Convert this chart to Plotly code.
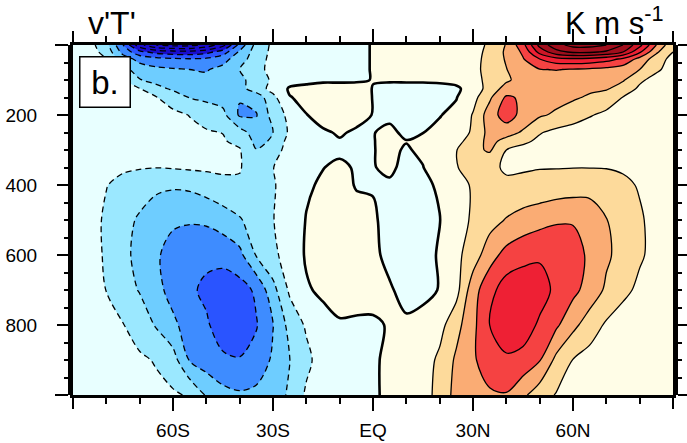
import plotly.graph_objects as go

# Latitude grid (deg, south negative) and pressure levels (hPa)
lat = list(range(-90, 91, 5))
plev = [0, 20, 40, 70, 100, 125, 150, 200, 250, 275, 300, 350, 400, 500, 600, 700, 800, 900, 1000]

# Zonal-mean eddy heat flux v'T' (K m s-1), one list per pressure level, 90S -> 90N
vt_0 = [-1.0, -2.0, -5.0, -12.0, -20.0, -24.0, -25.0, -25.0, -23.0, -19.0, -11.0, -5.0, -2.4, -1.0, -0.5, -0.3, -0.2, -0.2,
        0.05, 0.2, 0.3, 0.4, 0.6, 1.0, 1.8, 3.5, 6.2, 11.0, 19.0, 23.0, 25.0, 25.0, 24.0, 21.0, 16.0, 9.0, 3.5]
vt_20 = [-1.0, -1.8, -4.0, -10.0, -14.0, -16.0, -16.8, -17.0, -16.0, -13.5, -8.5, -4.6, -2.3, -1.0, -0.5, -0.3, -0.2, -0.2,
         0.05, 0.2, 0.3, 0.4, 0.6, 1.0, 1.9, 3.8, 6.5, 9.5, 16.0, 20.0, 21.5, 21.5, 20.5, 18.0, 12.5, 6.5, 3.0]
vt_40 = [-0.8, -1.5, -3.0, -7.5, -10.0, -11.0, -11.5, -11.8, -11.5, -10.0, -7.5, -4.2, -2.2, -1.0, -0.5, -0.3, -0.2, -0.2,
         0.05, 0.2, 0.3, 0.3, 0.5, 0.9, 2.0, 4.0, 6.3, 8.8, 12.0, 14.0, 14.5, 14.2, 13.2, 11.5, 8.0, 4.5, 2.0]
vt_70 = [-0.6, -1.2, -2.3, -5.0, -7.5, -8.3, -8.7, -9.0, -9.2, -8.2, -6.0, -3.8, -2.2, -1.0, -0.4, -0.3, -0.2, -0.2,
         0.05, 0.2, 0.3, 0.3, 0.4, 0.8, 2.0, 4.2, 5.9, 8.0, 8.9, 9.1, 8.8, 8.5, 8.1, 7.4, 6.0, 3.5, 1.8]
vt_100 = [-0.5, -1.0, -1.8, -2.9, -5.8, -7.2, -8.0, -8.3, -8.4, -8.0, -6.8, -4.6, -2.5, -1.0, -0.4, -0.3, -0.3, -0.2,
          0.05, 0.15, 0.2, 0.2, 0.3, 0.5, 1.8, 4.0, 5.6, 7.0, 7.6, 7.8, 7.6, 7.3, 6.8, 6.3, 3.5, 2.0, 1.5]
vt_125 = [-0.4, -0.9, -1.6, -2.4, -2.9, -4.8, -6.6, -7.4, -7.6, -7.5, -7.0, -4.5, -2.0, 0.3, 0.4, 0.7, 0.7, 0.6,
          -0.05, -0.4, -0.5, -0.5, -0.5, -0.3, 0.8, 4.5, 7.0, 7.3, 7.4, 7.3, 7.0, 6.5, 6.3, 4.6, 2.5, 1.6, 1.2]
vt_150 = [-0.4, -0.8, -1.3, -2.0, -2.5, -2.9, -3.8, -6.1, -6.8, -7.2, -8.8, -7.8, -3.8, -0.1, 0.5, 0.9, 1.0, 0.8,
          -0.05, -0.5, -0.6, -0.6, -0.5, -0.1, 2.0, 5.5, 9.5, 8.5, 7.6, 7.0, 6.4, 5.6, 4.5, 2.9, 1.6, 1.2, 1.0]
vt_200 = [-0.4, -0.8, -1.2, -1.7, -2.1, -2.4, -2.6, -3.05, -3.8, -5.2, -9.4, -9.2, -4.8, -2.2, -0.05, 0.6, 0.8, 0.5,
          -0.05, -0.3, -0.5, -0.4, -0.1, 0.6, 3.2, 7.5, 10.5, 8.0, 6.4, 5.5, 4.3, 3.2, 2.4, 1.7, 1.2, 1.0, 0.9]
vt_250 = [-0.5, -0.9, -1.3, -1.7, -2.0, -2.2, -2.4, -2.6, -2.8, -3.05, -4.8, -7.4, -6.0, -2.5, -0.3, -0.2, 0.15, -0.2,
          -0.05, 0.3, -0.3, -0.02, 0.5, 1.2, 3.5, 7.0, 7.2, 5.6, 3.2, 2.2, 1.8, 1.6, 1.5, 1.4, 1.3, 1.1, 1.0]
vt_275 = [-0.5, -0.95, -1.45, -1.85, -2.1, -2.25, -2.35, -2.45, -2.6, -2.8, -3.6, -6.8, -5.6, -1.8, -0.4, -0.3, -0.1, -0.3,
          -0.05, 0.35, 0.05, 0.2, 0.8, 2.0, 4.4, 6.9, 5.0, 3.6, 2.4, 1.8, 1.6, 1.45, 1.4, 1.35, 1.25, 1.1, 1.0]
vt_300 = [-0.5, -1.0, -1.6, -2.0, -2.2, -2.3, -2.3, -2.3, -2.4, -2.5, -2.8, -5.9, -5.0, -1.2, -0.5, -0.4, -0.4, -0.4,
          -0.05, 0.3, -0.15, 0.3, 1.0, 2.9, 5.2, 6.4, 3.0, 2.0, 1.7, 1.5, 1.4, 1.3, 1.3, 1.3, 1.2, 1.1, 1.0]
vt_350 = [-0.5, -1.2, -2.2, -2.6, -2.8, -2.95, -2.8, -2.6, -2.5, -2.6, -2.9, -3.8, -3.1, -1.0, -0.2, -0.05, 0.4, -0.2,
          -0.05, 0.2, -0.3, -0.05, 1.2, 2.8, 4.5, 3.5, 2.7, 2.8, 2.9, 2.9, 2.95, 2.95, 2.9, 2.7, 2.4, 1.8, 1.4]
vt_400 = [-0.6, -1.5, -2.9, -3.8, -4.6, -5.3, -5.6, -5.4, -4.6, -3.6, -3.2, -3.5, -3.3, -1.5, -0.3, 0.3, 0.8, -0.15,
          -0.1, -0.15, -0.5, -0.3, 0.2, 2.0, 3.3, 3.8, 3.4, 3.5, 3.8, 4.2, 4.5, 4.6, 4.3, 3.5, 2.8, 2.0, 1.5]
vt_500 = [-0.8, -1.8, -3.5, -5.0, -6.4, -7.8, -8.5, -8.7, -8.5, -7.6, -6.3, -4.5, -3.1, -1.5, 0.1, 0.8, 1.2, 0.8,
          0.2, -0.5, -0.8, -0.6, -0.05, 1.5, 3.5, 4.8, 6.2, 7.3, 8.0, 8.6, 8.7, 8.2, 6.1, 4.8, 3.3, 2.2, 1.5]
vt_600 = [-1.0, -1.8, -3.4, -5.3, -6.8, -8.6, -10.2, -11.0, -11.3, -11.0, -9.8, -5.8, -3.6, -1.8, 0.3, 0.8, 1.2, 1.0,
          0.4, -0.5, -0.8, -0.7, 0.2, 2.3, 4.4, 7.8, 10.0, 11.0, 11.6, 11.6, 10.6, 8.3, 6.5, 4.9, 3.3, 2.3, 1.5]
vt_700 = [-1.0, -1.5, -3.05, -4.6, -6.2, -8.0, -10.2, -11.5, -12.6, -13.6, -13.2, -11.5, -7.0, -2.5, -0.3, 0.5, 1.2, 0.8,
          0.5, 0.2, -0.6, -0.6, 0.1, 2.0, 7.8, 11.0, 13.5, 14.0, 13.3, 11.3, 9.8, 7.8, 5.5, 3.6, 2.5, 1.8, 1.3]
vt_800 = [-1.2, -1.5, -2.2, -2.9, -4.2, -6.3, -8.3, -10.5, -11.6, -13.5, -14.0, -12.2, -9.1, -5.0, -2.6, -1.0, -0.3, -0.3,
          -0.2, 0.1, 0.3, 0.8, 2.0, 5.0, 8.2, 12.0, 14.0, 13.6, 11.5, 9.5, 6.8, 4.5, 2.6, 1.8, 1.4, 1.2, 1.0]
vt_900 = [-1.2, -1.4, -1.8, -2.2, -2.6, -3.2, -4.8, -9.2, -10.5, -11.5, -11.8, -11.0, -8.5, -6.05, -3.8, -1.5, -0.5, -0.3,
          -0.2, 0.3, 0.6, 1.6, 3.6, 6.5, 8.6, 10.5, 11.5, 11.0, 9.2, 5.2, 2.9, 1.9, 1.5, 1.3, 1.2, 1.1, 1.0]
vt_1000 = [-1.5, -1.5, -1.8, -2.0, -2.3, -2.4, -2.6, -3.3, -6.3, -8.0, -8.6, -8.2, -7.0, -5.7, -2.5, -1.2, -0.6, -0.4,
           -0.2, 0.3, 0.8, 1.8, 4.0, 7.0, 8.0, 8.6, 8.8, 6.6, 4.3, 2.8, 2.0, 1.6, 1.4, 1.3, 1.2, 1.1, 1.0]

vt = [vt_0, vt_20, vt_40, vt_70, vt_100, vt_125, vt_150, vt_200, vt_250, vt_275, vt_300,
      vt_350, vt_400, vt_500, vt_600, vt_700, vt_800, vt_900, vt_1000]

# Axis labelling
x_tickvals = [-60, -30, 0, 30, 60]
x_ticktext = ["60S", "30S", "EQ", "30N", "60N"]
y_tickvals = [200, 400, 600, 800]
y_ticktext = ["200", "400", "600", "800"]
x_edges = [-90, 90]
y_edges = [0, 1000]

# Contour interval and shading
CINT = 3.0
LEV_MIN, LEV_MAX = -30.0, 30.0


def band_color(lo):
    """Fill colour for the band [lo, lo + CINT)."""
    if lo < -15:
        return "rgb(26,12,205)"
    if lo >= 18:
        return "rgb(160,14,28)"
    table = {
        -15: "rgb(42,84,255)",
        -12: "rgb(62,140,255)",
        -9: "rgb(110,205,255)",
        -6: "rgb(155,232,255)",
        -3: "rgb(232,255,255)",
        0: "rgb(255,253,231)",
        3: "rgb(253,218,155)",
        6: "rgb(250,172,116)",
        9: "rgb(245,66,66)",
        12: "rgb(238,32,52)",
        15: "rgb(205,22,38)",
    }
    return table[int(lo)]


# Step colour scale: one flat segment per contour band.
nb = int((LEV_MAX - LEV_MIN) / CINT) + 1
colorscale = []
for j in range(nb + 1):
    lo = LEV_MIN - CINT + j * CINT
    c = band_color(lo)
    colorscale.append([max(0.0, (j - 0.5) / nb), c])
    colorscale.append([min(1.0, (j + 0.5) / nb), c])

SMOOTH = 0.9

fig = go.Figure()

# Shaded bands
fig.add_trace(go.Contour(
    x=lat, y=plev, z=vt,
    autocontour=False,
    contours=dict(start=LEV_MIN, end=LEV_MAX, size=CINT, coloring="fill", showlines=False),
    colorscale=colorscale, zmin=LEV_MIN - CINT / 2, zmax=LEV_MAX + CINT / 2,
    line=dict(width=0, smoothing=SMOOTH),
    showscale=False, hoverinfo="skip",
))

# Negative contours: dashed
fig.add_trace(go.Contour(
    x=lat, y=plev, z=vt,
    autocontour=False,
    contours=dict(start=LEV_MIN, end=-CINT, size=CINT, coloring="none"),
    line=dict(color="black", width=1.3, dash="6px,4px", smoothing=SMOOTH),
    showscale=False, hoverinfo="skip",
))

# Positive contours: solid
fig.add_trace(go.Contour(
    x=lat, y=plev, z=vt,
    autocontour=False,
    contours=dict(start=CINT, end=LEV_MAX, size=CINT, coloring="none"),
    line=dict(color="black", width=1.3, smoothing=SMOOTH),
    showscale=False, hoverinfo="skip",
))

# Zero contour: thick
fig.add_trace(go.Contour(
    x=lat, y=plev, z=vt,
    autocontour=False,
    contours=dict(start=0, end=0, size=CINT, coloring="none"),
    line=dict(color="black", width=2.6, smoothing=SMOOTH),
    showscale=False, hoverinfo="skip",
))

# Empty trace on the overlay axes so the corner ticks and heavy right border get drawn
fig.add_trace(go.Scatter(x=[None], y=[None], xaxis="x2", yaxis="y2",
                         mode="markers", showlegend=False, hoverinfo="skip"))

FONT = "Liberation Sans, Arial, Helvetica, sans-serif"
TICK = dict(ticks="outside", ticklen=13, tickwidth=1.5, tickcolor="black")

fig.update_layout(
    width=687, height=443,
    margin=dict(l=73, r=14, t=45, b=48),
    paper_bgcolor="white", plot_bgcolor="white",
    showlegend=False,
    font=dict(family=FONT, color="black"),
    xaxis=dict(
        range=[-90, 90], tickmode="array", tickvals=x_tickvals, ticktext=x_ticktext,
        minor=dict(tickmode="array", tickvals=list(range(-80, 90, 10)),
                   ticks="outside", ticklen=6, tickwidth=1.5, tickcolor="black"),
        showline=True, linecolor="black", linewidth=2.5, mirror="allticks",
        showgrid=False, zeroline=False, automargin=False,
        tickfont=dict(size=19, family=FONT), ticklabelstandoff=3, **TICK,
    ),
    yaxis=dict(
        range=[1000, 0], tickmode="array", tickvals=y_tickvals, ticktext=y_ticktext,
        minor=dict(tickmode="array", tickvals=list(range(50, 1000, 50)),
                   ticks="outside", ticklen=6, tickwidth=1.5, tickcolor="black"),
        showline=True, linecolor="black", linewidth=3, mirror="allticks",
        showgrid=False, zeroline=False, automargin=False,
        tickfont=dict(size=19, family=FONT), ticklabelstandoff=16, **TICK,
    ),
    xaxis2=dict(overlaying="x", range=[-90, 90], tickmode="array", tickvals=x_edges,
                showticklabels=False, showline=False, mirror="allticks",
                showgrid=False, zeroline=False, automargin=False, **TICK),
    yaxis2=dict(overlaying="y", side="right", range=[1000, 0], tickmode="array", tickvals=y_edges,
                showticklabels=False, showline=True, linecolor="black", linewidth=5,
                mirror="allticks", showgrid=False, zeroline=False, automargin=False, **TICK),
)

# Titles and panel label
fig.add_annotation(text="v'T'", xref="paper", yref="paper", x=0.022, y=1.0,
                   xanchor="left", yanchor="bottom", yshift=2, showarrow=False,
                   font=dict(size=32, family=FONT))
fig.add_annotation(text="K m s<sup>-1</sup>", xref="paper", yref="paper", x=0.988, y=1.0,
                   xanchor="right", yanchor="bottom", yshift=2, showarrow=False,
                   font=dict(size=31, family=FONT))
fig.add_annotation(text="b.", xref="paper", yref="paper", x=0.01, y=0.9686,
                   xanchor="left", yanchor="top", showarrow=False,
                   width=49, height=49, borderpad=0, align="center", valign="middle",
                   bgcolor="white", bordercolor="black", borderwidth=1.5,
                   font=dict(size=33, family=FONT))

fig.write_html("out.html")
